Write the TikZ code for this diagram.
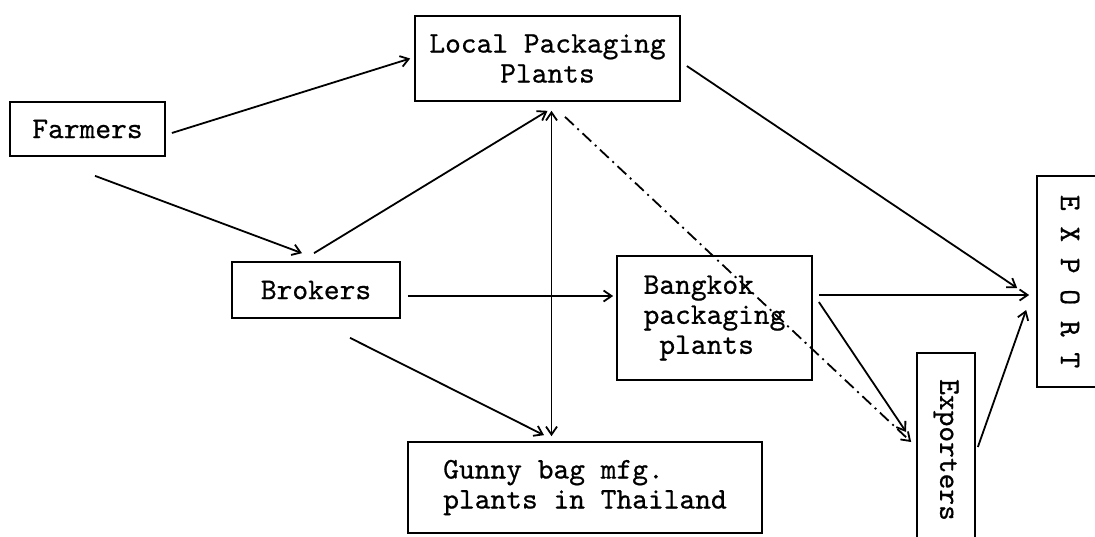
\documentclass[tikz,border=0pt]{standalone}
\usepackage{fontspec}
\usepackage{graphicx}
\newfontfamily\twfont[FakeBold=0.6]{lmmono10-regular.otf}
\usetikzlibrary{calc,arrows.meta}
\tikzset{
  box/.style={draw, line width=0.85pt, inner sep=0pt,
    font=\twfont\fontsize{15}{15}\selectfont},
  con/.style={line width=0.9pt, -{Straight Barb[length=4pt,width=5.5pt]}},
  dcon/.style={con, dash pattern=on 6pt off 2.5pt on 1pt off 2.5pt},
}
\begin{document}
\begin{tikzpicture}[x=0.5pt,y=-0.5pt]
\useasboundingbox (0,0) rectangle (1095,536);
\clip (0,0) rectangle (1095,536);
% boxes
\node[box, align=center, minimum width=132.5pt, minimum height=42.5pt] (loc) at (547.5,58.5) {Local Packaging\\Plants};
\node[box, minimum width=77.5pt, minimum height=27pt] (farm) at (87.5,129) {Farmers};
\node[box, minimum width=84pt, minimum height=28pt] (brok) at (316,290) {Brokers};
\node[box, align=left, minimum width=97.5pt, minimum height=62pt] (bkk) at (714.5,318) {Bangkok\\packaging\\~plants};
\node[box, align=left, minimum width=177pt, minimum height=45.5pt] (gun) at (585,487.5) {Gunny bag mfg.\\plants in Thailand};
\node[box, minimum width=29pt, minimum height=97pt] (expo) at (946,450) {\rotatebox{-90}{Exporters}};
\node[box, minimum width=33pt, minimum height=105.5pt] (EXP) at (1070,281.5) {\rotatebox{-90}{E X P O R T}};
% connectors
\draw[con] ($(farm.east)+(6,4)$) -- ($(loc.west)+(-4,0)$);
\draw[con] ($(farm.south)+(7.5,19)$) -- ($(brok.north)+(-14,-8)$);
\draw[con] ($(brok.north)+(-2,-8)$) -- ($(loc.south)+(0,9)$);
\draw[con, {Straight Barb[length=4pt,width=5.5pt]}-{Straight Barb[length=4pt,width=5.5pt]}] ($(gun.north)+(-33.5,-5)$) -- ($(loc.south)+(4,9)$);
\draw[con] ($(brok.south)+(34,19)$) -- ($(gun.north)+(-41,-6)$);
\draw[con] ($(brok.east)+(7,6)$) -- ($(bkk.west)+(-3,-22)$);
\draw[con] ($(loc.east)+(6,7.5)$) -- ($(EXP.west)+(-19,6.5)$);
\draw[con] ($(bkk.east)+(6,-23)$) -- ($(EXP.west)+(-7,13.5)$);
\draw[con] ($(bkk.east)+(6,-16)$) -- ($(expo.west)+(-10,-18)$);
\draw[dcon] ($(loc.south)+(17.5,15)$) -- ($(expo.west)+(-5,-8)$);
\draw[con] ($(expo.east)+(2,-3)$) -- ($(EXP.west)+(-10,28.5)$);
\end{tikzpicture}
\end{document}
